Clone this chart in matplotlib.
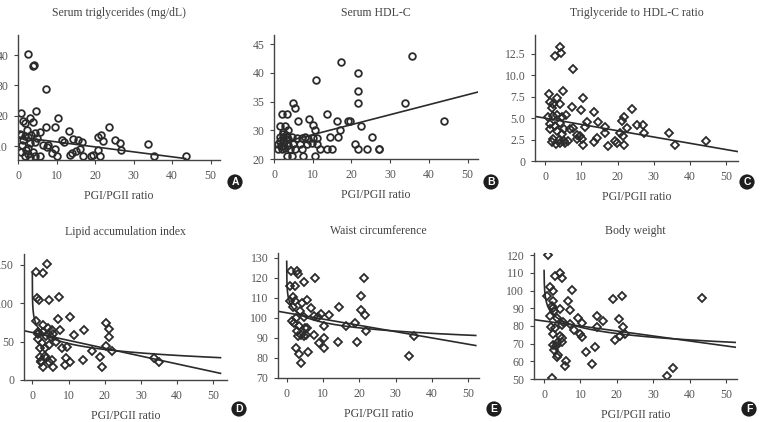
import matplotlib.pyplot as plt
import numpy as np

plt.rcParams['font.family'] = ['Liberation Serif', 'DejaVu Serif']

# panel A - serum triglycerides
a_x = [2.7, 3.9, 4.2, 7.2, 0.9, 4.7, 3.1, 1.4, 1.8, 4.0, 10.3, 9.6, 7.2, 13.2, 23.6,
       0.8, 1.8, 2.7, 3.5, 4.4, 5.7, 1.4, 3.1, 4.4, 6.6, 7.4, 7.8, 11.3, 14.3, 15.6,
       16.5, 20.8, 21.6, 22.1, 25.1, 26.4, 33.7, 2.2, 2.7, 4.0, 4.4, 5.7, 1.8, 3.1,
       8.7, 9.6, 10.0, 13.4, 13.9, 16.0, 16.9, 18.9, 19.5, 21.2, 20.8, 26.6, 35.3, 43.6,
       0.5, 2.3, 5.0, 1.0, 2.5, 0.7, 12.0, 15.0]
a_y = [40.5, 36.4, 36.8, 28.7, 21.0, 21.4, 19.3, 18.4, 17.5, 18.0, 19.2, 16.4, 16.2, 15.1, 16.4,
       13.6, 13.3, 12.9, 13.6, 14.2, 14.7, 12.0, 10.9, 11.4, 10.3, 9.8, 10.3, 12.0, 12.2, 12.0,
       11.3, 12.9, 13.6, 11.8, 12.0, 10.9, 10.8, 8.7, 7.4, 8.1, 6.7, 6.7, 6.7, 6.5,
       7.6, 8.9, 6.7, 7.0, 7.6, 9.0, 6.7, 6.7, 6.9, 6.7, 8.7, 8.7, 6.7, 6.7,
       14.0, 15.2, 12.5, 10.2, 9.5, 8.0, 11.4, 8.5]

# panel B - serum HDL-C
b_x = [35.6, 17.3, 21.8, 10.8, 21.6, 21.6, 33.9, 5.0, 5.4, 44.0, 2.0, 3.3, 1.6, 2.8, 6.3,
       9.1, 13.8, 16.2, 19.2, 19.7, 22.4, 10.0, 10.6, 3.7, 2.4, 17.1, 16.6, 14.5,
       1.6, 2.4, 3.3, 4.6, 5.9, 7.2, 8.0, 8.9, 10.2, 11.0,
       1.1, 2.4, 3.7, 5.0, 6.7, 8.4, 9.7, 11.0,
       1.1, 2.0, 2.8, 4.1, 5.4, 7.2, 11.9, 13.6, 14.9,
       21.0, 21.8, 24.0, 27.0, 27.2, 25.4, 3.3, 4.6, 7.6, 10.6,
       1.5, 2.5, 3.0, 1.8, 2.2, 3.5]
b_y = [42.9, 41.9, 39.9, 38.8, 36.9, 34.8, 34.8, 34.8, 33.8, 31.7, 32.9, 32.8, 30.7, 30.7, 31.7,
       31.9, 32.8, 31.7, 31.7, 31.7, 30.7, 30.9, 30.0, 30.0, 29.7, 30.0, 28.8, 28.8,
       28.8, 28.9, 28.8, 28.8, 28.7, 28.7, 28.8, 28.5, 28.7, 28.7,
       27.6, 27.3, 27.5, 27.7, 27.7, 27.7, 27.8, 27.7,
       26.8, 26.8, 27.0, 26.8, 26.8, 26.8, 26.8, 26.8, 26.8,
       27.7, 26.8, 26.8, 26.8, 26.8, 28.8, 25.6, 25.6, 25.6, 25.6,
       28.2, 28.0, 29.2, 27.2, 29.4, 28.4]

# panel C - triglyceride to HDL-C ratio
c_x = [4.0, 2.8, 4.3, 7.6, 1.1, 4.9, 3.2, 1.4, 2.3, 4.1, 10.6, 1.8, 7.4, 9.9, 13.5, 23.9,
       0.9, 2.3, 3.2, 4.6, 5.8, 11.7, 14.7, 16.6, 21.2, 21.9, 22.6, 25.5, 27.0, 27.2,
       1.4, 2.8, 4.1, 5.1, 7.8, 11.0, 1.4, 3.2, 4.6, 6.9, 8.7, 9.7,
       34.3, 16.6, 20.7, 21.4,
       2.3, 3.7, 5.1, 6.4, 8.7, 10.1, 10.6, 13.4, 14.3, 17.3, 19.3, 21.8,
       35.8, 44.4, 2.0, 3.0, 4.0, 5.5, 19.8]
c_y = [13.3, 12.3, 12.6, 10.7, 7.8, 8.2, 7.3, 6.9, 6.7, 6.7, 7.4, 6.2, 6.3, 5.9, 5.7, 6.1,
       5.1, 5.2, 5.4, 5.1, 5.4, 4.6, 4.6, 4.0, 4.7, 5.1, 3.9, 4.2, 4.2, 3.3,
       4.3, 4.1, 4.4, 3.7, 3.9, 4.0, 3.7, 3.5, 3.2, 3.7, 3.0, 2.9,
       3.3, 3.3, 3.3, 2.9,
       2.6, 2.4, 2.3, 2.3, 2.6, 2.6, 1.9, 2.2, 2.7, 1.8, 2.3, 1.9,
       1.9, 2.3, 2.2, 2.0, 2.1, 2.1, 2.1]

# panel D - lipid accumulation index
d_x = [4.0, 1.0, 2.9, 1.2, 1.9, 4.7, 7.5, 7.2, 10.3, 20.4, 1.0, 2.9, 4.2, 5.4, 3.0, 7.7,
       11.4, 14.3, 21.1, 21.3, 1.7, 3.8, 5.1, 5.8, 1.7, 2.6, 4.7, 3.5, 2.1, 8.1, 9.5,
       20.4, 22.0, 16.4, 18.6, 19.3, 14.0, 2.1, 3.5, 2.3, 3.0, 4.7, 5.8, 5.4, 9.3,
       10.4, 8.9, 33.5, 34.9, 2.5, 3.8, 1.5, 6.5]
d_y = [151, 140.4, 139, 106.5, 103.5, 103.5, 108, 79, 82.6, 74, 77, 71.7, 67.4, 65.2, 62, 65.2,
       58.7, 65.2, 66.1, 56.5, 59.6, 57.8, 56.5, 59.6, 53.5, 47.8, 45.6, 41.3, 41.3, 41.3, 43.5,
       44.8, 37.8, 37.8, 30.4, 17.4, 25.6, 30.4, 31.7, 23.9, 17.4, 23.9, 17.4, 26.1, 28.3,
       23.0, 19.6, 28.3, 23.9, 24.5, 28.5, 62, 50]

# panel E - waist circumference
e_x = [1.1, 2.8, 3.1, 0.9, 2.2, 4.8, 7.7, 21.3, 1.8, 0.9, 2.2, 5.5, 4.3, 6.6, 20.6, 20.6,
       21.5, 14.5, 1.6, 3.7, 2.5, 4.8, 7.5, 9.4, 11.7, 18.8, 2.0, 3.4, 5.0, 2.9, 4.0, 5.2,
       5.7, 7.4, 10.3, 16.3, 21.8, 3.1, 4.8, 8.9, 10.3, 14.2, 19.5, 10.3, 2.5, 3.4, 3.9,
       5.9, 35.1, 33.7, 8.5, 1.5]
e_y = [123.7, 123.7, 122, 115.8, 115.8, 118, 120, 120, 110.3, 108.7, 108.3, 109.2, 107.5, 105,
       110.8, 103.8, 101.7, 105.5, 105.3, 103.7, 100, 100.3, 100.8, 102, 101.7, 97.7, 97.5,
       95.8, 95, 93.3, 91.7, 91.3, 95, 91.3, 95.8, 95.8, 93.7, 90.8, 90.8, 87.5, 90, 87.8,
       87.8, 85, 85, 82, 77.5, 83, 90.8, 80.8, 100.5, 98.5]

# panel F - body weight
f_x = [1.2, 4.4, 5.0, 3.0, 7.8, 1.6, 2.4, 0.9, 2.6, 6.7, 7.1, 2.1, 2.4, 4.4, 2.7, 18.9,
       21.3, 43.5, 1.6, 3.5, 5.3, 9.4, 10.3, 14.5, 16.3, 20.7, 21.6, 1.8, 3.0, 4.9, 7.1,
       8.1, 14.5, 19.5, 20.9, 22.3, 9.9, 10.3, 2.6, 4.4, 4.9, 2.4, 3.3, 4.9, 2.7, 3.7,
       14.0, 11.5, 3.9, 3.5, 6.0, 5.8, 13.3, 35.5, 33.7, 2.3]
f_y = [120, 110, 107.1, 108.5, 100.5, 101.9, 99.6, 96.7, 93.9, 93.9, 89.2, 91.1, 90.1, 89.8,
       88.2, 95.4, 96.7, 95.8, 85.4, 84.5, 82.2, 84.8, 81.6, 85.4, 83, 84.1, 79.7, 79.7, 78.8,
       80.3, 81.1, 77.8, 79.7, 72.2, 74.6, 75.4, 75.4, 73.5, 75.4, 74.6, 73.1, 69.3, 68.4,
       71.2, 66.5, 70.3, 68, 65, 63.3, 62.7, 60.3, 57.4, 58.6, 56.5, 51.8, 50.3]

# fitted lines: (intercept, slope, x from, x to)
lin_fits = [(13.0, -0.164, 0.5, 43.5), (27.5, 0.174, 0.9, 52.7), (5.0, -0.0733, -2.8, 53.3),
            (61.8, -1.022, -2.3, 52.0), (102.6, -0.314, -2.1, 52.1), (82.8, -0.282, -2.5, 52.5)]
# logarithmic fits y = a + b*ln(x): (a, b, x from, x to), only D, E, F
log_fits = [None, None, None,
            (73.3, -11.2, 0.0028, 52.0), (107.0, -3.98, 0.0047, 52.1), (91.3, -5.2, 0.021, 52.5)]

titles = ['Serum triglycerides (mg/dL)', 'Serum HDL-C', 'Triglyceride to HDL-C ratio',
          'Lipid accumulation index', 'Waist circumference', 'Body weight']
letters = ['A', 'B', 'C', 'D', 'E', 'F']
xs = [a_x, b_x, c_x, d_x, e_x, f_x]
ys = [a_y, b_y, c_y, d_y, e_y, f_y]
markers = ['o', 'o', 'D', 'D', 'D', 'D']

yticks = [[10, 20, 30, 40], [25, 30, 35, 40, 45], [0, 2.5, 5, 7.5, 10, 12.5],
          [0, 50, 100, 150], [70, 80, 90, 100, 110, 120, 130],
          [50, 60, 70, 80, 90, 100, 110, 120]]
ytick_labels = [['10', '20', '30', '40'], ['20', '30', '35', '40', '45'],
                ['0', '2.5', '5.0', '7.5', '10.0', '12.5'], ['0', '50', '100', '150'],
                ['70', '80', '90', '100', '110', '120', '130'],
                ['50', '60', '70', '80', '90', '100', '110', '120']]

W, H = 762, 422
# axes boxes in pixels: left, top, right, bottom
boxes = [(18, 35, 220, 160), (274, 35, 478, 159), (535, 35, 738, 161),
         (24, 254, 227, 380), (278, 253, 479, 378), (534, 253, 737, 379)]
xlims = [(0, 52.4), (0, 52.7), (-2.8, 53.3), (-2.3, 53.8), (-2.4, 53.0), (-2.75, 53.0)]
ylims = [(5.4, 46.6), (25, 46.6), (0, 14.7), (0, 164), (70, 132.5), (50, 121.3)]
badge_pos = [(235, 182), (491, 182), (747, 182), (239, 409), (494, 409), (749, 409)]

ink = '#2b2b2b'
grey = '#555555'

fig = plt.figure(figsize=(W / 100, H / 100), dpi=100)

for i in range(6):
    l, t, r, b = boxes[i]
    ax = fig.add_axes([l / W, 1 - b / H, (r - l) / W, (b - t) / H])
    ax.plot(xs[i], ys[i], linestyle='none', marker=markers[i],
            markersize=4.8 if markers[i] == 'o' else 4.2,
            markerfacecolor='none', markeredgecolor=ink, markeredgewidth=1.3)

    b0, b1, x0, x1 = lin_fits[i]
    lx = np.array([x0, x1])
    ax.plot(lx, b0 + b1 * lx, color=ink, lw=1.2)
    if log_fits[i] is not None:
        la, lb, x0, x1 = log_fits[i]
        gx = np.geomspace(x0, x1, 400)
        ax.plot(gx, la + lb * np.log(gx), color=ink, lw=1.2)

    ax.set_xlim(*xlims[i])
    ax.set_ylim(*ylims[i])
    ax.set_xticks([0, 10, 20, 30, 40, 50])
    ax.set_yticks(yticks[i])
    ax.set_yticklabels(ytick_labels[i])
    ax.spines['top'].set_visible(False)
    ax.spines['right'].set_visible(False)
    for s in ['left', 'bottom']:
        ax.spines[s].set_color('#444444')
        ax.spines[s].set_linewidth(1.0)
    ax.tick_params(direction='out', length=3, width=0.8, color='#444444',
                   labelsize=8.5, labelcolor=grey, pad=4)
    ax.set_title(titles[i], fontsize=8.5, color='#444444', pad=14)
    ax.set_xlabel('PGI/PGII ratio', fontsize=8.5, color='#444444', labelpad=6)

    bx, by = badge_pos[i]
    fig.text(bx / W, 1 - by / H, letters[i], ha='center', va='center',
             fontsize=7.5, fontweight='bold', color='white', family='Liberation Sans',
             bbox=dict(boxstyle='circle,pad=0.25', facecolor='#1e1e1e', edgecolor='none'))

fig.savefig('out.png', dpi=100)
